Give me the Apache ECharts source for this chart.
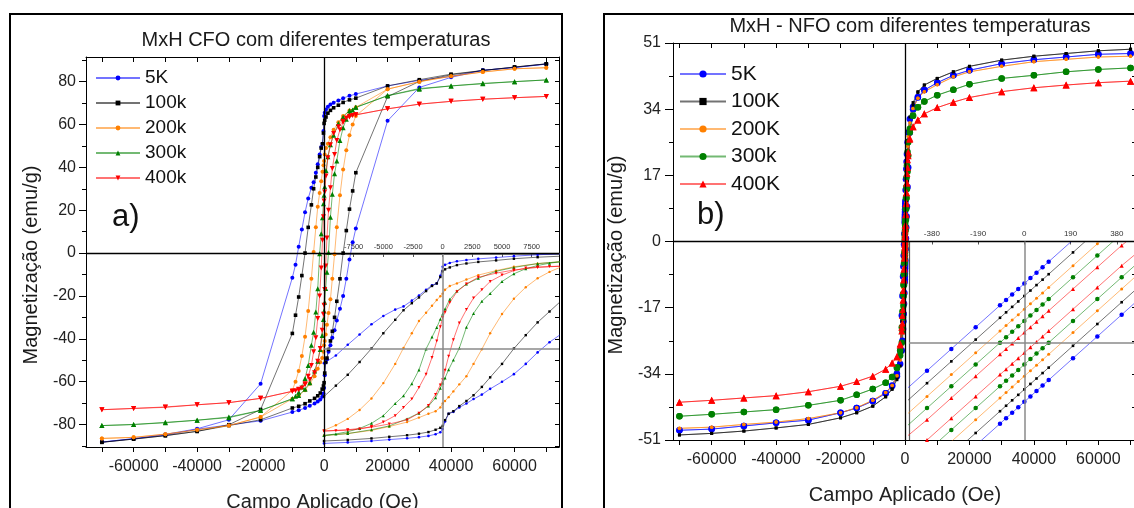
<!DOCTYPE html>
<html><head><meta charset="utf-8">
<script src="https://cdn.jsdelivr.net/npm/echarts@6/dist/echarts.min.js"></script>
<style>html,body{margin:0;padding:0;background:#fff}#c{width:1134px;height:508px}</style>
</head><body><div id="c"></div>
<script>
// ---------------- Panel a) CFO ----------------
const cfoTemps = ['5K', '100k', '200k', '300k', '400k'];
const cfoFieldDown = [70000,60000,50000,40000,30000,20000,10000,8000,6000,4500,3000,2000,1200,600,200,0,-200,-500,-900,-1400,-2000,-2600,-3300,-4000,-5000,-6000,-7000,-8000,-9000,-10000,-20000,-30000,-40000,-50000,-60000,-70000];
const cfoFieldUp = [-70000,-60000,-50000,-40000,-30000,-20000,-10000,-8000,-6000,-4500,-3000,-2000,-1200,-600,-200,0,200,500,900,1400,2000,2600,3300,4000,5000,6000,7000,8000,9000,10000,20000,30000,40000,50000,60000,70000];
const cfo5KDown = [88.2,86.6,85.3,82.5,80.6,78,74.2,73.4,72.3,71.2,70.2,69.3,68.3,67,65.5,64,57,51,49.5,46,41.5,37.5,33,30.5,25.5,19,11,3,-5.4,-11.5,-61,-77.8,-82,-84.6,-86.6,-88.2];
const cfo5KUp = [-88.2,-86.6,-85,-82.2,-80.2,-78.3,-74.2,-73.4,-72.3,-71.2,-70.2,-69.3,-68.3,-67,-65.5,-63,-57,-51,-49.5,-46,-43,-39.5,-36,-31.5,-26,-20,-12,-3,5,11.5,61.7,77.3,82,85.3,86.6,88.2];
const cfo100kDown = [88.3,86.8,85.2,83.5,80.9,78,72.3,71.5,70.3,69,67.8,66.6,65.3,63.5,62,60.5,56,51,49,45,40,35.5,30,22.5,12,0,-10.5,-20.5,-29,-37.5,-73,-80.1,-83.2,-85.2,-86.8,-88.3];
const cfo100kUp = [-88.3,-86.8,-85.2,-83.2,-80.5,-77.8,-72.3,-71.5,-70.3,-69,-67.8,-66.6,-65.3,-63.5,-62,-60.5,-56,-51,-49,-45,-41,-36.5,-30,-22.5,-12,0,10.5,20.5,29,37.5,73,80.1,83.2,85.2,86.8,88.3];
const cfo200kDown = [86.5,86,84.5,82.5,80,76.5,68,66.5,64,61,57.5,54,51,49,46,43,41,38,33.5,28,21.6,12,0.5,-12,-27,-39,-48,-55,-60,-64,-76.5,-80.5,-82.5,-84.5,-86,-86.5];
const cfo200kUp = [-86.5,-86,-84.5,-82.5,-80.5,-76.5,-68,-66.5,-64,-61,-57.5,-54,-51,-49,-46,-43,-41,-38,-33.5,-28,-21.6,-12,-0.5,12,27,39,48,55,60,64,76.5,80,82.5,84.5,86,86.5];
const cfo300kDown = [80.8,80,79.2,78,76.5,73.4,68,66.5,63.5,60.5,55,50.5,45,38.5,31,27,23,16.5,9,-0.3,-16.7,-27.5,-37,-43,-52.5,-58.5,-62.5,-65,-66.8,-68,-73.5,-76.8,-78,-79,-80,-80.5];
const cfo300kUp = [-80.5,-80,-79.2,-78,-76.5,-73.4,-68,-66.5,-63.5,-60.5,-55,-50.5,-45,-38.5,-31,-27,-23,-16.5,-9,0.3,16.7,27.5,37,43,52.5,58.5,62.5,65,66.8,68,73.5,76.8,78,79,80,80.8];
const cfo400kDown = [73.1,72.5,71.8,70.8,69.5,67.3,64.5,63.5,61.5,59,55.8,50.5,44.5,36,28.5,24.3,17,6,-7,-20,-30.5,-39.5,-46,-52.5,-57.5,-61,-63,-63.8,-64.2,-64.5,-67.8,-69.8,-70.8,-72,-72.5,-73.1];
const cfo400kUp = [-73.1,-72.5,-71.8,-70.8,-69.8,-67.8,-64.5,-63.5,-61.5,-59,-55.8,-50.5,-44.5,-36,-28.5,-24.3,-17,-6,7,20,30.5,39.5,46,52.5,57.5,61,63,63.8,64.2,64.5,67.3,69.5,70.8,71.8,72.5,73.1];
const cfoXTicks = [-70000,-60000,-50000,-40000,-30000,-20000,-10000,0,10000,20000,30000,40000,50000,60000,70000];
const cfoXLabels = [-60000,-40000,-20000,0,20000,40000,60000];
const cfoYMajor = [-80,-60,-40,-20,0,20,40,60,80];
const cfoYMinor = [-90,-70,-50,-30,-10,10,30,50,70,90];
const cfoInsetLabels = [-7500,-5000,-2500,0,2500,5000,7500];

// ---------------- Panel b) NFO ----------------
const nfoTemps = ['5K', '100K', '200K', '300k', '400K'];
const nfoFieldDown = [70000,60000,50000,40000,30000,20000,15000,10000,6000,4000,2500,1500,1000,800,600,500,400,300,200,100,75,50,25,0,-25,-50,-75,-100,-200,-300,-400,-500,-600,-800,-1000,-1500,-2500,-4000,-6000,-10000,-15000,-20000,-30000,-40000,-50000,-60000,-70000];
const nfoFieldUp = [-70000,-60000,-50000,-40000,-30000,-20000,-15000,-10000,-6000,-4000,-2500,-1500,-1000,-800,-600,-500,-400,-300,-200,-100,-75,-50,-25,0,25,50,75,100,200,300,400,500,600,800,1000,1500,2500,4000,6000,10000,15000,20000,30000,40000,50000,60000,70000];
const nfo5KDown = [48.3,48.1,47.4,46.7,45.7,44,42.7,40.8,38.9,37.1,34.6,31.5,28,25.5,22.5,20.5,18.6,16,13.2,10.4,9.7,9,8.3,7.6,6.9,6.2,5.5,4.8,2,-0.8,-3.6,-6.4,-9,-14,-19,-28,-34,-37,-39,-41,-42.8,-44,-45.9,-46.6,-47.4,-48.2,-48.5];
const nfo5KUp = [-48.5,-48.2,-47.4,-46.6,-45.9,-44,-42.8,-41,-39,-37.1,-34.6,-31.5,-28,-25.5,-22.5,-20.5,-18.6,-16,-13.2,-10.4,-9.7,-9,-8.3,-7.6,-6.9,-6.2,-5.5,-4.8,-2,0.8,3.6,6.4,9,14,19,28,34,37,38.9,40.8,42.7,44,45.7,46.7,47.4,48.1,48.3];
const nfo100KDown = [49.4,49,48.3,47.6,46.6,45,43.6,41.9,40.2,38.5,35.7,32,28.5,26,22.5,19.8,17.2,14.4,11.6,8.8,8.1,7.4,6.7,6,5.3,4.6,3.9,3.2,0.4,-2.4,-5.2,-8,-10.5,-15.5,-20.5,-29,-35,-37.8,-39.9,-42.3,-44,-45.3,-47,-47.9,-48.7,-49.3,-49.7];
const nfo100KUp = [-49.7,-49.3,-48.7,-47.9,-47,-45.3,-44,-42.3,-39.9,-38,-35.5,-32,-28.5,-26,-22.5,-19.8,-17.2,-14.4,-11.6,-8.8,-8.1,-7.4,-6.7,-6,-5.3,-4.6,-3.9,-3.2,-0.4,2.4,5.2,8,10.5,15.5,20.5,29,35,38.3,40.2,41.9,43.6,45,46.6,47.6,48.3,49,49.4];
const nfo200KDown = [47.6,47.4,46.8,46.2,45,43.6,42.3,40.3,38.5,36.8,34.2,30.5,27,24.5,20.5,17.6,15.5,12.7,9.9,7.1,6.4,5.7,5,4.3,3.6,2.9,2.2,1.5,-1.3,-4.1,-6.9,-9.7,-12,-17,-21.5,-29.5,-34.5,-37,-38.8,-40.8,-42.7,-44,-45.5,-46.4,-47,-47.7,-48];
const nfo200KUp = [-48,-47.7,-47,-46.4,-45.5,-44,-42.7,-40.8,-38.8,-37,-34.5,-30.5,-26.5,-23.5,-20,-17.8,-15.5,-12.7,-9.9,-7.1,-6.4,-5.7,-5,-4.3,-3.6,-2.9,-2.2,-1.5,1.3,4.1,6.9,9.7,12,17,21.5,29.5,34.2,36.8,38.5,40.3,42.3,43.6,45,46.2,46.8,47.4,47.6];
const nfo300kDown = [44.6,44.2,43.6,42.7,41.9,40.4,39,37.6,36,34.5,32.3,29,25.5,23,19.5,16.5,14,11.2,8.4,5.6,4.9,4.2,3.5,2.8,2.1,1.4,0.7,0,-2.8,-5.6,-8.4,-11.2,-13.5,-18,-22,-28,-32.3,-34.8,-36.3,-37.9,-39.4,-40.8,-42.1,-43.2,-43.8,-44.4,-44.9];
const nfo300kUp = [-44.9,-44.4,-43.8,-43.2,-42.1,-40.8,-39.4,-37.9,-36.3,-34.8,-32.5,-29.3,-26,-23,-19.5,-16.5,-14,-11.2,-8.4,-5.6,-4.9,-4.2,-3.5,-2.8,-2.1,-1.4,-0.7,0,2.8,5.6,8.4,11.2,13.5,18,22,28,32.3,34.5,36,37.6,39,40.4,41.9,42.7,43.6,44.2,44.6];
const nfo400KDown = [41.2,40.8,40.2,39.5,38.5,37,35.8,34.4,32.8,31.2,29.5,26.5,23,21,17.5,15,12.5,9.7,6.9,4.1,3.4,2.7,2,1.3,0.6,-0.1,-0.8,-1.5,-4.3,-7.1,-9.9,-12.5,-15,-19,-22,-26.3,-29.6,-31.2,-32.8,-34.6,-36,-37.2,-38.6,-39.6,-40.2,-40.8,-41.3];
const nfo400KUp = [-41.3,-40.8,-40.2,-39.6,-38.6,-37.2,-36,-34.6,-32.8,-31.2,-29.6,-26.6,-23,-21,-17.5,-15,-12.5,-9.7,-6.9,-4.1,-3.4,-2.7,-2,-1.3,-0.6,0.1,0.8,1.5,4.3,7.1,9.9,12.5,15,19,22,26.3,29.5,31.2,32.8,34.4,35.8,37,38.5,39.5,40.2,40.8,41.2];
const nfoXTicks = [-70000,-60000,-50000,-40000,-30000,-20000,-10000,0,10000,20000,30000,40000,50000,60000,70000];
const nfoXLabels = [-60000,-40000,-20000,0,20000,40000,60000];
const nfoYMajor = [-51,-34,-17,0,17,34,51];
const nfoYMinor = [-42.5,-25.5,-8.5,8.5,25.5,42.5];
const nfoInsetLabels = [-380,-190,0,190,380];

// ---------------- styles ----------------
const FONT = 'Liberation Sans, Arial, Helvetica, sans-serif';
const cfoLook = [
  {color:'#0000ff', symbol:'circle', size:4, inset:2.6},
  {color:'#000000', symbol:'rect', size:3.6, inset:2.4},
  {color:'#ff8000', symbol:'circle', size:4, inset:2.4},
  {color:'#008000', symbol:'triangle', size:5, inset:3},
  {color:'#ff0000', symbol:'triangle', rotate:180, size:5, inset:3}
];
const nfoLook = [
  {color:'#0000ff', symbol:'circle', size:6.5, inset:4.5},
  {color:'#000000', symbol:'rect', size:3, inset:2.6},
  {color:'#ff8000', symbol:'circle', size:3.5, inset:3},
  {color:'#008000', symbol:'circle', size:6.5, inset:4.5},
  {color:'#ff0000', symbol:'triangle', size:7, inset:4}
];

function loop(fd, md, fu, mu) {
  const out = [];
  fd.forEach((h, i) => out.push([h, md[i]]));
  fu.forEach((h, i) => out.push([h, mu[i]]));
  return out;
}
const cfoLoops = [
  loop(cfoFieldDown, cfo5KDown, cfoFieldUp, cfo5KUp),
  loop(cfoFieldDown, cfo100kDown, cfoFieldUp, cfo100kUp),
  loop(cfoFieldDown, cfo200kDown, cfoFieldUp, cfo200kUp),
  loop(cfoFieldDown, cfo300kDown, cfoFieldUp, cfo300kUp),
  loop(cfoFieldDown, cfo400kDown, cfoFieldUp, cfo400kUp)
];
const nfoLoops = [
  loop(nfoFieldDown, nfo5KDown, nfoFieldUp, nfo5KUp),
  loop(nfoFieldDown, nfo100KDown, nfoFieldUp, nfo100KUp),
  loop(nfoFieldDown, nfo200KDown, nfoFieldUp, nfo200KUp),
  loop(nfoFieldDown, nfo300kDown, nfoFieldUp, nfo300kUp),
  loop(nfoFieldDown, nfo400KDown, nfoFieldUp, nfo400KUp)
];

const zeroLines = (color, width) => ({
  silent: true, animation: false, symbol: ['none', 'none'], label: {show: false},
  lineStyle: {color: color, width: width, type: 'solid'},
  emphasis: {disabled: true},
  data: [{xAxis: 0}, {yAxis: 0}]
});

function mkSeries(prefix, temps, loops, look, xi, yi, inset, withLines, lineColor, lineWidth) {
  return temps.map((t, i) => {
    const L = look[i];
    const s = {
      type: 'line', name: prefix + ' ' + t, data: loops[i],
      xAxisIndex: xi, yAxisIndex: yi,
      symbol: L.symbol, symbolSize: inset ? L.inset : L.size, symbolRotate: L.rotate || 0,
      showSymbol: true, clip: true, animation: false,
      itemStyle: {color: L.color},
      lineStyle: {color: L.color, width: 1, opacity: 0.55},
      emphasis: {disabled: true}
    };
    if (i === 0 && withLines) s.markLine = zeroLines(lineColor, lineWidth);
    return s;
  });
}

const black = {color: '#000', width: 1};
function vAxis(o) {
  return Object.assign({
    type: 'value', splitLine: {show: false},
    axisLine: {show: true, onZero: false, lineStyle: black},
    axisTick: {show: false}, axisLabel: {show: false}
  }, o);
}
const labelStyle = (extra) => Object.assign({
  show: true, fontSize: 16, color: '#222', fontFamily: FONT, formatter: v => String(v)
}, extra);

const xAxes = [
  vAxis({gridIndex: 0, min: -75000, max: 74000, position: 'bottom',
    axisTick: {show: true, inside: false, length: 5, customValues: cfoXTicks, lineStyle: black},
    axisLabel: labelStyle({customValues: cfoXLabels, margin: 12}),
    name: 'Campo Aplicado (Oe)', nameLocation: 'middle', nameGap: 45,
    nameTextStyle: {fontSize: 20, color: '#222', fontFamily: FONT}}),
  vAxis({gridIndex: 0, min: -75000, max: 74000, position: 'top',
    axisTick: {show: true, inside: true, length: 5, customValues: cfoXTicks, lineStyle: black}}),
  vAxis({gridIndex: 1, min: -10000, max: 9800, position: 'top',
    axisLine: {show: true, onZero: false, lineStyle: {color: '#555', width: 1.5}},
    axisTick: {show: true, inside: true, length: 3, customValues: cfoInsetLabels, lineStyle: {color: '#555'}},
    axisLabel: labelStyle({customValues: cfoInsetLabels, fontSize: 7.5, color: '#333', margin: 3})}),
  vAxis({gridIndex: 2, min: -72000, max: 72000, position: 'bottom',
    axisTick: {show: true, inside: false, length: 5, customValues: nfoXTicks, lineStyle: black},
    axisLabel: labelStyle({customValues: nfoXLabels, margin: 12}),
    name: 'Campo Aplicado (Oe)', nameLocation: 'middle', nameGap: 45,
    nameTextStyle: {fontSize: 20, color: '#222', fontFamily: FONT}}),
  vAxis({gridIndex: 2, min: -72000, max: 72000, position: 'top',
    axisTick: {show: true, inside: true, length: 5, customValues: nfoXTicks, lineStyle: black}}),
  vAxis({gridIndex: 3, min: -474, max: 463, position: 'top',
    axisLine: {show: false, onZero: false},
    axisTick: {show: true, inside: true, length: 3, customValues: nfoInsetLabels, lineStyle: {color: '#555'}},
    axisLabel: labelStyle({customValues: nfoInsetLabels, fontSize: 8, color: '#333', margin: 4})})
];

const yAxes = [
  vAxis({gridIndex: 0, min: -90.5, max: 91.5, position: 'left',
    axisTick: {show: true, inside: false, length: 7, customValues: cfoYMajor, lineStyle: black},
    axisLabel: labelStyle({customValues: cfoYMajor, margin: 10})}),
  vAxis({gridIndex: 0, min: -90.5, max: 91.5, position: 'left',
    axisLine: {show: false, onZero: false},
    axisTick: {show: true, inside: false, length: 4, customValues: cfoYMinor, lineStyle: black}}),
  vAxis({gridIndex: 0, min: -90.5, max: 91.5, position: 'right',
    axisTick: {show: true, inside: true, length: 4, customValues: cfoYMajor.concat(cfoYMinor), lineStyle: black}}),
  vAxis({gridIndex: 1, min: -77, max: 74, position: 'left', axisLine: {show: false, onZero: false}}),
  vAxis({gridIndex: 2, min: -51, max: 51, position: 'left',
    axisTick: {show: true, inside: false, length: 8, customValues: nfoYMajor, lineStyle: black},
    axisLabel: labelStyle({customValues: nfoYMajor, margin: 12})}),
  vAxis({gridIndex: 2, min: -51, max: 51, position: 'left',
    axisLine: {show: false, onZero: false},
    axisTick: {show: true, inside: false, length: 4, customValues: nfoYMinor, lineStyle: black}}),
  vAxis({gridIndex: 2, min: -51, max: 51, position: 'right',
    axisTick: {show: true, inside: true, length: 5, customValues: nfoYMajor.concat(nfoYMinor), lineStyle: black}}),
  vAxis({gridIndex: 3, min: -12.5, max: 13, position: 'left',
    axisLine: {show: true, onZero: false, lineStyle: {color: '#555', width: 1.2}}})
];

const grids = [
  {left: 86, top: 57, width: 473, height: 390},
  {left: 324, top: 254, width: 235, height: 193},
  {left: 673, top: 43, width: 464, height: 397},
  {left: 909, top: 241.5, width: 228, height: 198.5}
].map(g => Object.assign({containLabel: false, outerBoundsMode: 'none', show: false}, g));

const series = [].concat(
  mkSeries('CFO', cfoTemps, cfoLoops, cfoLook, 0, 0, false, true, '#000', 1.3),
  mkSeries('CFO', cfoTemps, cfoLoops, cfoLook, 2, 3, true, true, '#8a8a8a', 1.5),
  mkSeries('NFO', nfoTemps, nfoLoops, nfoLook, 3, 4, false, true, '#000', 1.3),
  mkSeries('NFO', nfoTemps, nfoLoops, nfoLook, 5, 7, true, true, '#8a8a8a', 1.5)
);

const legendText = (size) => ({fontSize: size, color: '#111', fontFamily: FONT, lineHeight: size + 1});
const legends = [
  {data: cfoTemps.map(t => 'CFO ' + t), orient: 'vertical', left: 95, top: 68, padding: 0,
   itemWidth: 44, itemHeight: 6, itemGap: 5, selectedMode: false,
   formatter: n => n.split(' ')[1], textStyle: legendText(19)},
  {data: nfoTemps.map(t => 'NFO ' + t), orient: 'vertical', left: 679, top: 63, padding: 0,
   itemWidth: 46, itemHeight: 9, itemGap: 5.5, selectedMode: false,
   formatter: n => n.split(' ')[1], textStyle: legendText(21)}
];

const txt = (text, x, y, size, extra) => Object.assign({
  type: 'text', x: x, y: y, silent: true, z: 50,
  style: {text: text, fontSize: size, fontFamily: FONT, fill: '#1a1a1a', align: 'center', verticalAlign: 'middle'}
}, extra || {});
const graphics = [
  {type: 'rect', silent: true, z: 60, shape: {x: 10, y: 14, width: 552, height: 520}, style: {fill: 'none', stroke: '#000', lineWidth: 2}},
  {type: 'rect', silent: true, z: 60, shape: {x: 604, y: 14, width: 560, height: 520}, style: {fill: 'none', stroke: '#000', lineWidth: 2}},
  txt('MxH CFO com diferentes temperaturas', 316, 40, 20),
  txt('MxH - NFO com diferentes temperaturas', 910, 26, 20),
  txt('Magnetização (emu/g)', 31, 265, 20, {rotation: Math.PI / 2}),
  txt('Magnetização (emu/g)', 616, 255, 20, {rotation: Math.PI / 2}),
  {type: 'text', x: 112, y: 217, silent: true, z: 50, style: {text: 'a)', fontSize: 31, fontFamily: FONT, fill: '#111', align: 'left', verticalAlign: 'middle'}},
  {type: 'text', x: 697, y: 215, silent: true, z: 50, style: {text: 'b)', fontSize: 31, fontFamily: FONT, fill: '#111', align: 'left', verticalAlign: 'middle'}}
];

const chart = echarts.init(document.getElementById('c'), null, {renderer: 'canvas'});
chart.setOption({
  backgroundColor: '#ffffff',
  animation: false,
  textStyle: {fontFamily: FONT},
  grid: grids,
  xAxis: xAxes,
  yAxis: yAxes,
  legend: legends,
  graphic: graphics,
  series: series
});
</script></body></html>
